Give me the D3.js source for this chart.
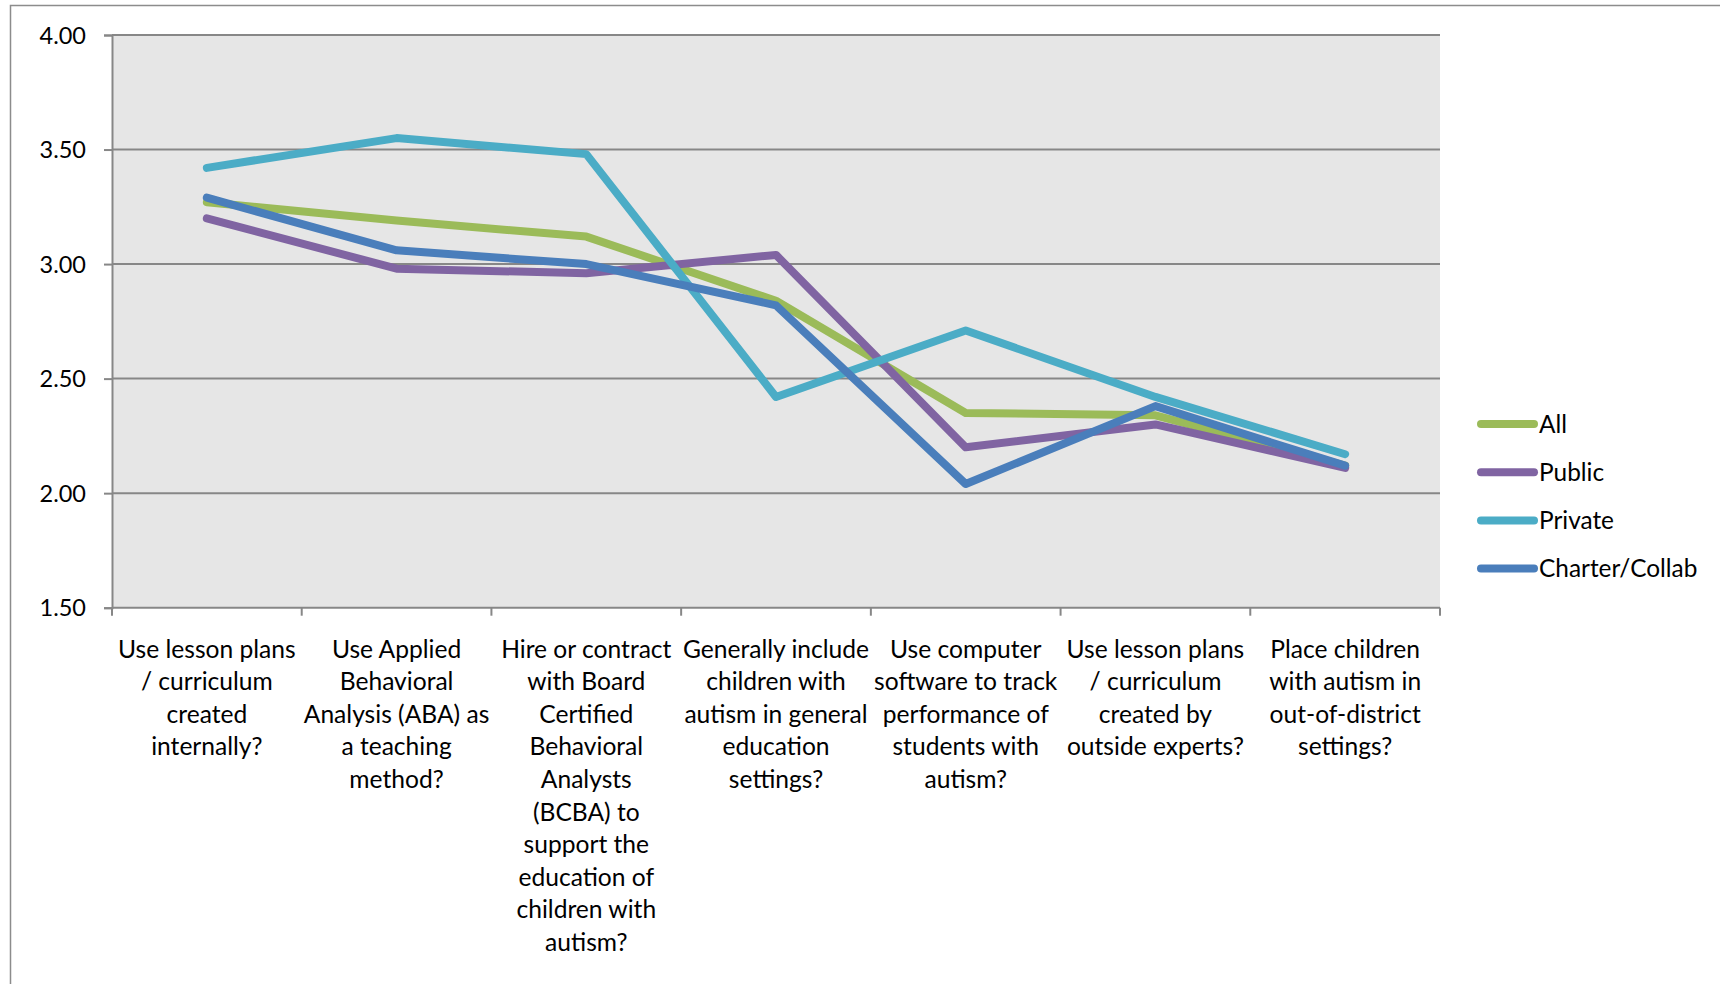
<!DOCTYPE html>
<html><head><meta charset="utf-8">
<script src="https://cdn.jsdelivr.net/npm/d3@7"></script>
<style>body{margin:0;background:#fff}svg{display:block}text{font-family:Lato,"Open Sans",sans-serif;fill:#000}</style>
</head><body><svg id="c" width="1720" height="984"></svg>
<script>
const categories = [
  ["Use lesson plans","/ curriculum","created","internally?"],
  ["Use Applied","Behavioral","Analysis (ABA) as","a teaching","method?"],
  ["Hire or contract","with Board","Certified","Behavioral","Analysts","(BCBA) to","support the","education of","children with","autism?"],
  ["Generally include","children with","autism in general","education","settings?"],
  ["Use computer","software to track","performance of","students with","autism?"],
  ["Use lesson plans","/ curriculum","created by","outside experts?"],
  ["Place children","with autism in","out-of-district","settings?"]
];
const seriesNames = ["All","Public","Private","Charter/Collab"];
const seriesColors = ["#9BBB59","#8064A2","#4BACC6","#4A7EBB"];
const allValues     = [3.27, 3.19, 3.12, 2.84, 2.35, 2.34, 2.12];
const publicValues  = [3.20, 2.98, 2.96, 3.04, 2.20, 2.30, 2.11];
const privateValues = [3.42, 3.55, 3.48, 2.42, 2.71, 2.42, 2.17];
const charterValues = [3.29, 3.06, 3.00, 2.82, 2.04, 2.38, 2.12];
const yTicks = [1.5, 2.0, 2.5, 3.0, 3.5, 4.0];
const seriesValues = [allValues, publicValues, privateValues, charterValues];

const svg = d3.select("#c");
const L = 112, R = 1440, T = 35, B = 607.7;

// outer chart border
svg.append("rect").attr("x",10.5).attr("y",5.5).attr("width",1800).attr("height",1100)
  .attr("fill","none").attr("stroke","#8c8c8c").attr("stroke-width",1.5);

const x = d3.scaleBand().domain(d3.range(categories.length)).range([L,R]).padding(0);
const y = d3.scaleLinear().domain([1.5,4]).range([B,T]);
const cx = i => x(i) + x.bandwidth()/2;

svg.append("rect").attr("x",L).attr("y",T).attr("width",R-L).attr("height",B-T).attr("fill","#E6E6E6");

// gridlines
svg.append("g").selectAll("line").data(yTicks.filter(v=>v>1.5)).join("line")
  .attr("x1",L).attr("x2",R).attr("y1",d=>y(d)).attr("y2",d=>y(d))
  .attr("stroke","#878787").attr("stroke-width",2);

// y axis
const ya = svg.append("g").attr("transform",`translate(${L},0)`)
  .call(d3.axisLeft(y).tickValues(yTicks).tickFormat(d3.format(".2f")).tickSize(8).tickPadding(18));
ya.select(".domain").attr("stroke","#878787").attr("stroke-width",2);
ya.selectAll(".tick line").attr("stroke","#878787").attr("stroke-width",2);
ya.selectAll(".tick text").style("font-size","23.5px").attr("fill","#000").attr("dy","0.35em");

// x axis
const xa = svg.append("g").attr("transform",`translate(0,${B})`);
xa.append("line").attr("x1",L).attr("x2",R).attr("y1",0).attr("y2",0).attr("stroke","#878787").attr("stroke-width",2);
xa.selectAll(".xt").data(d3.range(categories.length+1)).join("line").attr("class","xt")
  .attr("x1",i=>L+i*x.bandwidth()).attr("x2",i=>L+i*x.bandwidth()).attr("y1",0).attr("y2",8)
  .attr("stroke","#878787").attr("stroke-width",2);
const labels = svg.append("g").selectAll("text").data(categories).join("text")
  .attr("text-anchor","middle").style("font-size","24.6px")
  .attr("transform",(d,i)=>`translate(${cx(i)},${B+50})`);
labels.selectAll("tspan").data(d=>d).join("tspan").attr("x",0).attr("y",(d,j)=>j*32.6).text(d=>d);

// lines
const line = d3.line().x((d,i)=>cx(i)).y(d=>y(d));
svg.append("g").selectAll("path").data(seriesValues).join("path")
  .attr("d",line).attr("fill","none").attr("stroke",(d,i)=>seriesColors[i])
  .attr("stroke-width",8).attr("stroke-linejoin","round").attr("stroke-linecap","round");

// legend
const lg = svg.append("g").selectAll("g").data(seriesNames).join("g")
  .attr("transform",(d,i)=>`translate(1481,${424+i*48.2})`);
lg.append("line").attr("x1",0).attr("x2",53).attr("y1",0).attr("y2",0)
  .attr("stroke",(d,i)=>seriesColors[i]).attr("stroke-width",8).attr("stroke-linecap","round");
lg.append("text").attr("x",58).attr("dy","0.35em").style("font-size","24.4px").text(d=>d);
</script></body></html>
